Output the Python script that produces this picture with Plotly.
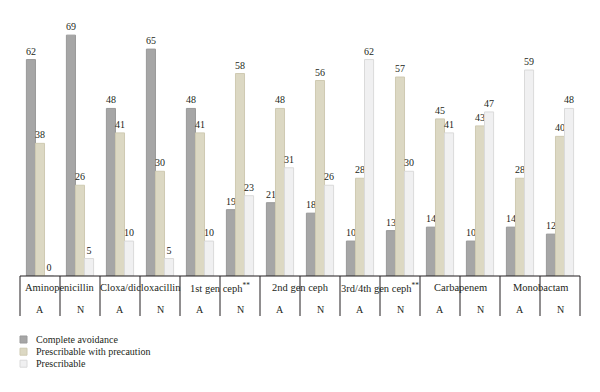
import plotly.graph_objects as go

columns = ["A", "N"] * 7
drugs = ["Aminopenicillin", "Cloxa/dicloxacillin", "1st gen ceph<sup>**</sup>",
         "2nd gen ceph", "3rd/4th gen ceph<sup>**</sup>", "Carbapenem", "Monobactam"]

complete_avoidance = [62, 69, 48, 65, 48, 19, 21, 18, 10, 13, 14, 10, 14, 12]
with_precaution = [38, 26, 41, 30, 41, 58, 48, 56, 28, 57, 45, 43, 28, 40]
prescribable = [0, 5, 10, 5, 10, 23, 31, 26, 62, 30, 41, 47, 59, 48]

series_names = ["Complete avoidance", "Prescribable with precaution", "Prescribable"]
series_values = [complete_avoidance, with_precaution, prescribable]
fill_colors = ["#a6a6a6", "#dcd8c3", "#f0f0f1"]
line_colors = ["#9a9a9a", "#cfcab2", "#dadada"]

FONT = "Liberation Serif, Times New Roman, DejaVu Serif, serif"
TXT = "#231f20"

x_idx = list(range(len(columns)))
fig = go.Figure()
for name, vals, fc, lc in zip(series_names, series_values, fill_colors, line_colors):
    fig.add_trace(go.Bar(
        x=x_idx, y=vals, name=name,
        marker=dict(color=fc, line=dict(color=lc, width=1)),
        text=[str(v) for v in vals], textposition="outside",
        textfont=dict(family=FONT, size=10, color=TXT),
        outsidetextfont=dict(family=FONT, size=10, color=TXT),
        constraintext="none", cliponaxis=False,
    ))

n = len(columns)
H = 266.0  # plot height in px
def py(px_below):
    return -px_below / H

shapes = [dict(type="line", xref="paper", yref="paper", x0=0, x1=1, y0=0, y1=0,
               line=dict(color="#231f20", width=1))]
for i in range(n + 1):
    shapes.append(dict(type="line", xref="paper", yref="paper", x0=i / n, x1=i / n,
                       y0=0, y1=py(40), line=dict(color="#231f20", width=1)))

annotations = []
for k, d in enumerate(drugs):
    annotations.append(dict(xref="paper", yref="paper", x=(2 * k + 1) / n, y=py(11),
                            text=d, showarrow=False, xanchor="center", yanchor="middle",
                            font=dict(family=FONT, size=10.5, color=TXT)))
for i, c in enumerate(columns):
    annotations.append(dict(xref="paper", yref="paper", x=(i + 0.5) / n, y=py(33),
                            text=c, showarrow=False, xanchor="center", yanchor="middle",
                            font=dict(family=FONT, size=10, color=TXT)))

# manual legend
legend_rows = [63.5, 75.7, 87.7]
for name, fc, lc, r in zip(series_names, fill_colors, line_colors, legend_rows):
    shapes.append(dict(type="rect", xref="paper", yref="paper",
                       x0=0, x1=7 / 560, y0=py(r - 3.5), y1=py(r + 3.5),
                       fillcolor=fc, line=dict(color=lc, width=1)))
    annotations.append(dict(xref="paper", yref="paper", x=14 / 560, y=py(r),
                            text=name, showarrow=False, xanchor="left", yanchor="middle",
                            font=dict(family=FONT, size=10, color=TXT)))

fig.update_layout(
    width=600, height=392,
    margin=dict(l=12, r=28, t=2, b=124),
    paper_bgcolor="white", plot_bgcolor="white",
    barmode="group", bargap=0.32, bargroupgap=0,
    showlegend=False,
    font=dict(family=FONT),
    xaxis=dict(range=[-0.5, n - 0.5], showticklabels=False, showgrid=False,
               zeroline=False, showline=False, ticks=""),
    yaxis=dict(range=[0, 76.2], showticklabels=False, showgrid=False,
               zeroline=False, showline=False, ticks=""),
    shapes=shapes, annotations=annotations,
)

fig.write_html("out.html")
